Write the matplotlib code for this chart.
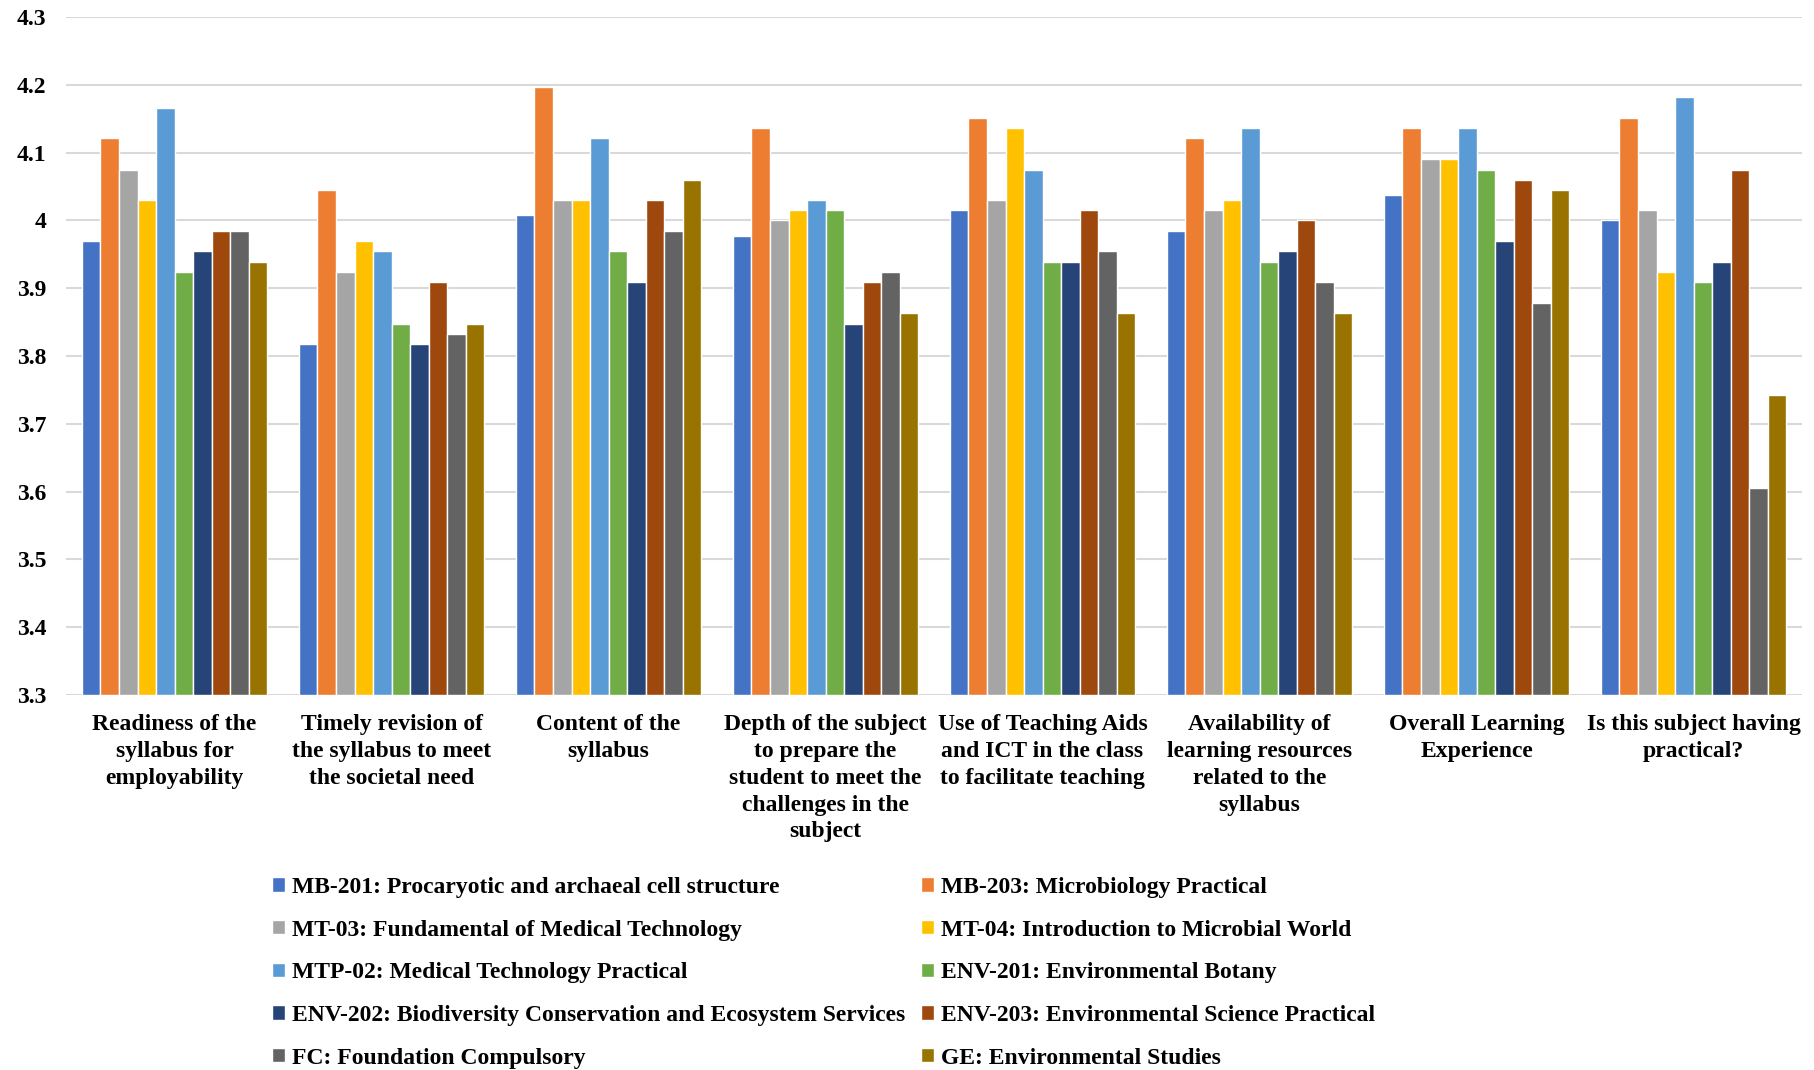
import numpy as np
import matplotlib
matplotlib.use("Agg")
import matplotlib.pyplot as plt

plt.rcParams['font.family'] = ['Liberation Serif', 'DejaVu Serif']
plt.rcParams['font.weight'] = 'bold'

categories = [
    "Readiness of the\nsyllabus for\nemployability",
    "Timely revision of\nthe syllabus to meet\nthe societal need",
    "Content of the\nsyllabus",
    "Depth of the subject\nto prepare the\nstudent to meet the\nchallenges in the\nsubject",
    "Use of Teaching Aids\nand ICT in the class\nto facilitate teaching",
    "Availability of\nlearning resources\nrelated to the\nsyllabus",
    "Overall Learning\nExperience",
    "Is this subject having\npractical?",
]

series_names = [
    "MB-201: Procaryotic and archaeal cell structure",
    "MB-203: Microbiology Practical",
    "MT-03: Fundamental of Medical Technology",
    "MT-04: Introduction to Microbial World",
    "MTP-02: Medical Technology Practical",
    "ENV-201: Environmental Botany",
    "ENV-202: Biodiversity Conservation and Ecosystem Services",
    "ENV-203: Environmental Science Practical",
    "FC: Foundation Compulsory",
    "GE: Environmental Studies",
]

colors = ["#4472C4", "#ED7D31", "#A5A5A5", "#FFC000", "#5B9BD5",
          "#70AD47", "#264478", "#9E480E", "#636363", "#997300"]

# one list per series, one value per category
mb201 = [3.970, 3.818, 4.008, 3.977, 4.015, 3.985, 4.037, 4.000]
mb203 = [4.121, 4.045, 4.197, 4.136, 4.151, 4.121, 4.136, 4.151]
mt03 = [4.075, 3.924, 4.030, 4.000, 4.030, 4.015, 4.091, 4.015]
mt04 = [4.030, 3.970, 4.030, 4.015, 4.136, 4.030, 4.091, 3.924]
mtp02 = [4.166, 3.955, 4.121, 4.030, 4.075, 4.136, 4.136, 4.182]
env201 = [3.924, 3.848, 3.955, 4.015, 3.939, 3.939, 4.075, 3.909]
env202 = [3.955, 3.818, 3.909, 3.848, 3.939, 3.955, 3.970, 3.939]
env203 = [3.985, 3.909, 4.030, 3.909, 4.015, 4.000, 4.060, 4.075]
fc = [3.985, 3.833, 3.985, 3.924, 3.955, 3.909, 3.878, 3.606]
ge = [3.939, 3.848, 4.060, 3.863, 3.863, 3.863, 4.045, 3.742]

data = [mb201, mb203, mt03, mt04, mtp02, env201, env202, env203, fc, ge]

fig = plt.figure(figsize=(18.14, 10.70), dpi=100)
ax = fig.add_axes([0.0364, 0.3505, 0.957, 0.6335])

x = np.arange(len(categories))
n = len(data)
w = 0.0853
handles = []
for i, vals in enumerate(data):
    offs = (i - (n - 1) / 2) * w
    b = ax.bar(x + offs, np.array(vals) - 3.3, w, bottom=3.3, color=colors[i],
               edgecolor="white", linewidth=1.0, label=series_names[i], zorder=3)
    handles.append(b)

ax.set_ylim(3.3, 4.3)
ax.set_xlim(-0.5, len(categories) - 0.5)
ax.set_yticks(np.arange(3.3, 4.31, 0.1))
ax.set_yticklabels(["3.3", "3.4", "3.5", "3.6", "3.7", "3.8", "3.9", "4", "4.1", "4.2", "4.3"])
ax.set_xticks(x)
ax.set_xticklabels(categories, fontsize=17, fontweight="bold", linespacing=1.36)
ax.tick_params(axis="y", length=0, pad=14, labelsize=17)
ax.tick_params(axis="x", length=0, pad=14)
ax.grid(axis="y", color="#d9d9d9", linewidth=1.5, zorder=0)
for s in ax.spines.values():
    s.set_visible(False)

# legend fills row by row in the reference, so reorder for column-major filling
order = [0, 2, 4, 6, 8, 1, 3, 5, 7, 9]
fig.legend([handles[i] for i in order], [series_names[i] for i in order],
           ncol=2, loc="upper left", bbox_to_anchor=(0.1435, 0.1916),
           frameon=False, handlelength=0.55, handleheight=0.55,
           handletextpad=0.3, columnspacing=0.64, labelspacing=0.92, borderpad=0,
           prop={"weight": "bold", "size": 17})

fig.savefig("out.png", dpi=100)
